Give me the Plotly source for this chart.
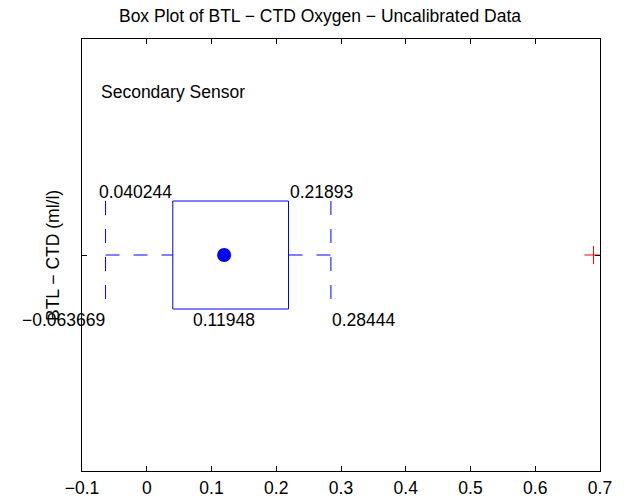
import plotly.graph_objects as go

# Summary statistics for the secondary sensor (BTL - CTD oxygen, ml/l)
group_pos = 1.0
q1 = 0.040244
median = 0.11948
q3 = 0.21893
whisker_low = -0.063669
whisker_high = 0.28444
outliers = [0.69]

x_ticks = [-0.1, 0, 0.1, 0.2, 0.3, 0.4, 0.5, 0.6, 0.7]
x_tick_labels = ["−0.1", "0", "0.1", "0.2", "0.3", "0.4", "0.5", "0.6", "0.7"]

half = 0.25  # half height of the box
blue = "#0000ff"
font_family = "Liberation Sans, Arial, Helvetica, sans-serif"
fsize = 17.5
dash = "14px,14px"

fig = go.Figure()

# box outline
fig.add_trace(go.Scatter(
    x=[q1, q3, q3, q1, q1],
    y=[group_pos - half, group_pos - half, group_pos + half, group_pos + half, group_pos - half],
    mode="lines", line=dict(color=blue, width=1), hoverinfo="skip"))

# whiskers
fig.add_trace(go.Scatter(x=[whisker_low, q1], y=[group_pos, group_pos], mode="lines",
                         line=dict(color=blue, width=1, dash=dash), hoverinfo="skip"))
fig.add_trace(go.Scatter(x=[q3, whisker_high], y=[group_pos, group_pos], mode="lines",
                         line=dict(color=blue, width=1, dash=dash), hoverinfo="skip"))

# whisker caps
for xv in (whisker_low, whisker_high):
    fig.add_trace(go.Scatter(x=[xv, xv], y=[group_pos + half, group_pos - half], mode="lines",
                             line=dict(color=blue, width=1, dash=dash), hoverinfo="skip"))

# median
fig.add_trace(go.Scatter(x=[median], y=[group_pos], mode="markers",
                         marker=dict(color=blue, size=14, line=dict(width=0))))

# outliers
fig.add_trace(go.Scatter(x=outliers, y=[group_pos] * len(outliers), mode="markers",
                         marker=dict(symbol="cross-thin", size=13, color="#ff0000",
                                     line=dict(color="#ff0000", width=1))))


def fmt(v):
    return f"{v:.5g}".replace("-", "−")


labels = [
    (q1, group_pos + 0.29, "right"),
    (q3, group_pos + 0.29, "left"),
    (whisker_low, group_pos - 0.30, "right"),
    (median, group_pos - 0.30, "center"),
    (whisker_high, group_pos - 0.30, "left"),
]
for xv, yv, anchor in labels:
    fig.add_annotation(x=xv, y=yv, xref="x", yref="y", text=fmt(xv), showarrow=False,
                       xanchor=anchor, yanchor="middle", borderpad=0,
                       font=dict(family=font_family, size=fsize, color="black"))

fig.add_annotation(x=-0.0725, y=1.755, xref="x", yref="y", text="Secondary Sensor",
                   showarrow=False, xanchor="left", yanchor="middle", borderpad=0,
                   font=dict(family=font_family, size=fsize, color="black"))

# y axis label
fig.add_annotation(x=-0.056, y=0.5, xref="paper", yref="paper", text="BTL − CTD (ml/l)",
                   textangle=-90, showarrow=False, xanchor="center", yanchor="middle",
                   borderpad=0, font=dict(family=font_family, size=fsize, color="black"))

fig.update_layout(
    width=627, height=504,
    margin=dict(l=82, r=27, t=39, b=33, autoexpand=False),
    paper_bgcolor="white", plot_bgcolor="white",
    showlegend=False,
    font=dict(family=font_family, size=fsize, color="black"),
    title=dict(text="Box Plot of BTL − CTD Oxygen − Uncalibrated Data",
               x=320 / 627, xanchor="center", xref="container",
               y=1 - 16 / 504, yanchor="middle",
               font=dict(family=font_family, size=fsize, color="black")),
    xaxis=dict(range=[-0.1, 0.7], tickvals=x_ticks, ticktext=x_tick_labels,
               ticks="inside", ticklen=5, tickcolor="black", tickwidth=1,
               ticklabelstandoff=1, automargin=False,
               showline=True, linecolor="black", linewidth=1, mirror="ticks",
               showgrid=False, zeroline=False,
               tickfont=dict(family=font_family, size=fsize, color="black")),
    yaxis=dict(range=[0, 2], tickvals=[group_pos], ticktext=[""],
               ticks="inside", ticklen=5, tickcolor="black", tickwidth=1,
               automargin=False,
               showline=True, linecolor="black", linewidth=1, mirror="ticks",
               showgrid=False, zeroline=False),
)

fig.write_html("out.html")
